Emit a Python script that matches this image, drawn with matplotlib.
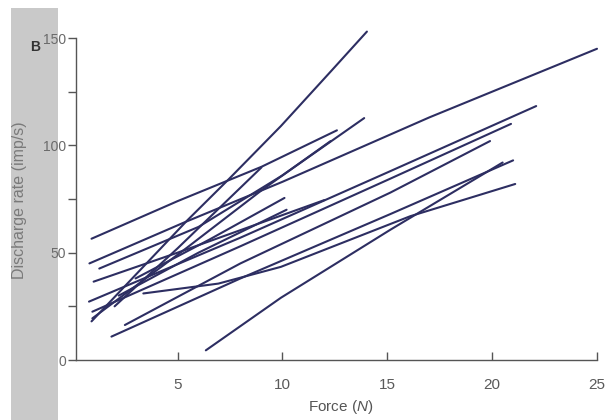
import matplotlib
matplotlib.use("Agg")
import matplotlib.pyplot as plt
from matplotlib.patches import Rectangle

plt.rcParams['font.family'] = ['Liberation Sans', 'DejaVu Sans']
plt.rcParams['mathtext.fontset'] = 'custom'
plt.rcParams['mathtext.it'] = 'Liberation Sans:italic'
plt.rcParams['mathtext.rm'] = 'Liberation Sans'

# Each motor unit: force (N) and discharge rate (imp/s) along its line
unit_force = [
    [0.9, 5.0, 9.0, 12.6],
    [0.8, 5.3, 10.0, 17.0, 25.0],
    [1.27, 6.0, 10.0, 13.9],
    [1.0, 5.0, 9.0, 12.0],
    [0.78, 8.0, 15.15, 22.1],
    [0.94, 8.0, 15.15, 20.9],
    [0.94, 5.46, 9.0, 12.3],
    [0.9, 5.46, 7.42, 9.93, 12.36, 14.03],
    [1.85, 8.0, 15.15, 21.0],
    [2.49, 8.0, 15.15, 19.9],
    [3.37, 6.95, 9.93, 16.1, 21.1],
    [6.35, 9.93, 15.15, 20.5],
    [2.0, 5.0, 9.0],
    [3.0, 6.5, 10.1],
    [2.2, 6.0, 10.2],
]
unit_rate = [
    [56.5, 74.0, 90.0, 107.0],
    [45.0, 64.0, 83.0, 113.0, 145.0],
    [42.6, 62.0, 86.0, 112.7],
    [36.5, 50.0, 64.0, 74.5],
    [27.2, 57.0, 88.0, 118.3],
    [22.5, 53.0, 84.5, 110.0],
    [19.4, 52.4, 79.0, 102.0],
    [18.0, 65.0, 84.0, 109.0, 135.0, 153.0],
    [10.9, 38.0, 68.0, 93.0],
    [16.3, 45.0, 78.0, 102.0],
    [31.0, 35.6, 43.4, 67.0, 82.0],
    [4.5, 29.0, 60.7, 92.0],
    [25.0, 52.0, 89.7],
    [38.0, 56.0, 75.5],
    [30.0, 50.0, 70.0],
]

x_ticks = [5, 10, 15, 20, 25]
y_major = [0, 50, 100, 150]
y_minor = [25, 75, 125]

W, H = 614, 420
fig = plt.figure(figsize=(W / 100, H / 100), dpi=100)

# scanned grey margin on the left
fig.patches.append(Rectangle((11 / W, 0), 47 / W, 412 / H, transform=fig.transFigure,
                             facecolor='#c9c9c9', edgecolor='none', zorder=-10))

ax = fig.add_axes([76 / W, 60 / H, 527.3 / W, 337 / H])
ax.set_facecolor('none')
ax.set_zorder(1)

line_color = '#2d2e62'
for fx, ry in zip(unit_force, unit_rate):
    ax.plot(fx, ry, color=line_color, lw=1.5, solid_capstyle='round', clip_on=False)

ax.set_xlim(0.16, 25.3)
ax.set_ylim(0, 157)

axis_color = '#555555'
for s in ['top', 'right']:
    ax.spines[s].set_visible(False)
ax.spines['left'].set_bounds(0, 150)
ax.spines['bottom'].set_bounds(0.16, 25)
for s in ['left', 'bottom']:
    ax.spines[s].set_color(axis_color)
    ax.spines[s].set_linewidth(1.0)

ax.set_xticks(x_ticks)
ax.set_xticklabels([str(v) for v in x_ticks])
ax.set_yticks(y_major)
ax.set_yticklabels([str(v) for v in y_major])
ax.set_yticks(y_minor, minor=True)

ax.tick_params(axis='x', direction='in', length=6, width=1.0, color=axis_color,
               labelcolor='#5a5a5a', labelsize=11, pad=13)
ax.tick_params(axis='y', which='major', direction='out', length=6, width=1.0, color=axis_color,
               labelcolor='#6a6a6a', labelsize=10, pad=1)
ax.tick_params(axis='y', which='minor', direction='out', length=6, width=1.0, color=axis_color)

ax.set_xlabel('Force ($\\mathit{N}$)', fontsize=11, color='#555555')
ax.xaxis.set_label_coords(0.503, -0.114)
ax.set_ylabel('Discharge rate (imp/s)', fontsize=11.5, color='#7a7a7a')
ax.yaxis.set_label_coords(-0.093, 0.475)

fig.text(35 / W, 1 - 47 / H, 'B', fontsize=10, fontweight='bold', color='#333333',
         ha='center', va='center')

fig.savefig('out.png', dpi=100)
